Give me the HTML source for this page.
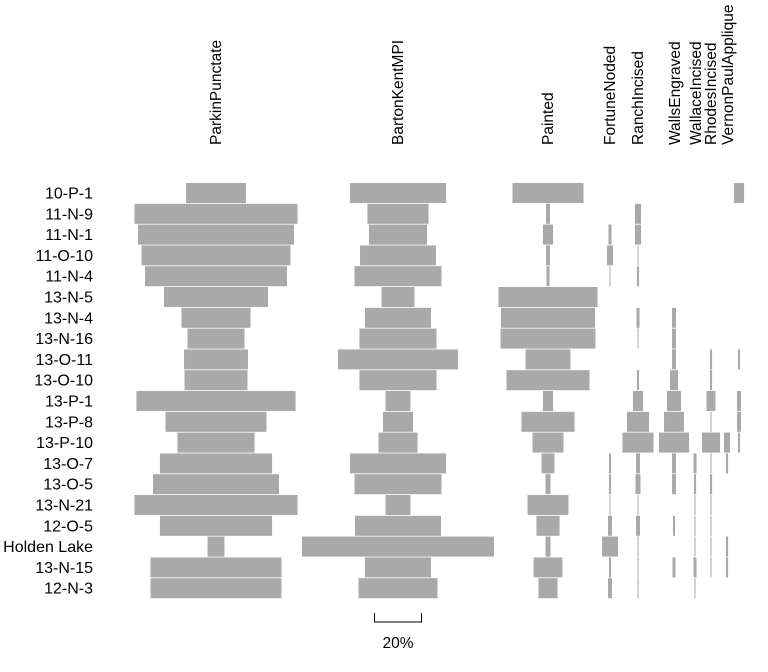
<!DOCTYPE html>
<html><head><meta charset="utf-8"><style>
body{margin:0;background:#fff;}
svg{display:block;font-family:"Liberation Sans",Arial,sans-serif;}
</style></head><body>
<svg id="chart" width="768" height="672"></svg>
<script>
const rows=["10-P-1","11-N-9","11-N-1","11-O-10","11-N-4","13-N-5","13-N-4","13-N-16","13-O-11","13-O-10","13-P-1","13-P-8","13-P-10","13-O-7","13-O-5","13-N-21","12-O-5","Holden Lake","13-N-15","12-N-3"];
const columns=["ParkinPunctate","BartonKentMPI","Painted","FortuneNoded","RanchIncised","WallsEngraved","WallaceIncised","RhodesIncised","VernonPaulApplique",""];
const parkin=[25.5,69.4,66.4,63.4,60.4,44.3,29.4,24.3,27.2,26.8,67.7,43,32.8,47.7,53.6,69.4,47.7,7.2,55.7,55.7];
const barton=[40.9,26,24.7,32.3,37,14,28.1,32.8,51.1,32.8,10.6,12.8,16.6,40.9,37,10.6,36.6,81.7,28.1,33.6];
const painted=[30.2,1.7,4.3,1.7,1.3,42.1,40,40.4,19.1,35.3,4.3,22.6,13.2,5.5,2.1,17.4,9.8,2.1,12.3,8.1];
const fortune=[0,0,1.3,2.6,0.4,0,0,0,0,0,0,0,0,0.9,0.9,0.4,1.7,6.8,0.9,1.7];
const ranch=[0,2.6,2.6,0.4,0.9,0,1.3,0.4,0,0.9,4.3,9.4,13.2,1.7,2.1,0.4,1.7,0.4,0.4,0.4];
const walls=[0,0,0,0,0,0,1.7,1.7,1.7,3.4,6,8.5,12.8,1.7,1.7,0,0.9,0,1.3,0];
const wallace=[0,0,0,0,0,0,0,0,0,0,0,0,0,1.3,0.9,0.4,0.4,0.4,1.3,0.4];
const rhodes=[0,0,0,0,0,0,0,0,0.9,0.9,3.8,0.4,7.7,0.4,0.9,0.4,0.4,0.4,0.4,0];
const vernon=[0,0,0,0,0,0,0,0,0,0,0,0,2.6,0.9,0,0,0,0.9,0.9,0];
const extra=[4.3,0,0,0,0,0,0,0,0.9,0,1.7,1.7,0.9,0,0,0,0,0,0,0];
const scaleValue=[20];

const series=[parkin,barton,painted,fortune,ranch,walls,wallace,rhodes,vernon,extra];
const colX=[216,398,548,610,638,674,695,711,727,739];
const labelX=[221,403,553,615,643,680,701,716,733,0];
const pxPer=2.35;
const y=i=>193+i*20.8;
const w=v=>v*pxPer;
const NS="http://www.w3.org/2000/svg";
const svg=document.getElementById('chart');
function mk(t,a){const e=document.createElementNS(NS,t);for(const k in a)e.setAttribute(k,a[k]);svg.appendChild(e);return e;}

columns.forEach((c,j)=>{
  if(!c)return;
  const t=mk('text',{x:labelX[j],y:145,'font-size':15.5,fill:'#000',transform:`rotate(-90 ${labelX[j]} 145)`});
  t.textContent=c;
  
  
});
rows.forEach((r,i)=>{
  const t=mk('text',{x:93,y:y(i)+5.5,'font-size':16,'text-anchor':'end',fill:'#000'});
  t.textContent=r;
  
  
});
series.forEach((s,j)=>{
  s.forEach((v,i)=>{
    if(v<=0)return;
    const ww=Math.max(1,w(v));
    const b=mk('rect',{x:colX[j]-ww/2,y:y(i)-10,width:ww,height:20,fill:'#a9a9a9'});
    
    
  });
});
const sw=w(scaleValue[0]);
const sb=mk('path',{d:`M${398-sw/2} 613 V622 H${398+sw/2} V613`,stroke:'#000','stroke-width':1,fill:'none'});


const st=mk('text',{x:398,y:648,'font-size':15.5,'text-anchor':'middle',fill:'#000'});
st.textContent=scaleValue[0]+'%';


</script>
</body></html>
